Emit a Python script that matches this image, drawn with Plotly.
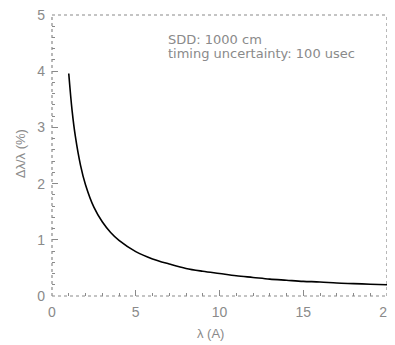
import plotly.graph_objects as go

# Values
wavelength = [1.0, 1.2, 1.4, 1.7, 2.0, 2.5, 3.0, 3.5, 4.0, 5.0, 6.0, 7.0, 8.0, 9.0, 10.0,
              11.0, 12.0, 13.0, 14.0, 15.0, 16.0, 17.0, 18.0, 19.0, 20.0]
resolution = [3.96, 3.30, 2.83, 2.33, 1.98, 1.58, 1.32, 1.13, 0.99, 0.79, 0.66, 0.57, 0.49,
              0.44, 0.40, 0.36, 0.33, 0.30, 0.28, 0.26, 0.25, 0.23, 0.22, 0.21, 0.20]
x_ticks = [0, 5, 10, 15, 20]
y_ticks = [0, 1, 2, 3, 4, 5]
notes = ["SDD: 1000 cm", "timing uncertainty: 100 usec"]
x_title = "λ (A)"
y_title = "Δλ/λ (%)"

grey = "#8a8a8a"
font = dict(family="Liberation Sans, Arial, sans-serif", size=13, color=grey)

fig = go.Figure()
fig.add_trace(go.Scatter(x=wavelength, y=resolution, mode="lines",
                         line=dict(color="black", width=1.6, shape="spline"),
                         showlegend=False))

# the page body has an 8px margin, so the figure is sized/offset to compensate
fig.update_layout(
    width=387, height=337,
    margin=dict(l=44, r=8, t=7, b=49),
    paper_bgcolor="white", plot_bgcolor="white",
    font=font,
    xaxis=dict(range=[0, 20], tickvals=x_ticks, ticks="inside", ticklen=6, tickcolor=grey,
               showgrid=False, zeroline=False, showline=False, automargin=False,
               ticklabelstandoff=6, ticklabeloverflow="allow",
               minor=dict(dtick=1, ticks="inside", ticklen=3, tickcolor=grey),
               tickfont=dict(size=14, color=grey)),
    yaxis=dict(range=[0, 5], tickvals=y_ticks, ticks="inside", ticklen=6, tickcolor=grey,
               showgrid=False, zeroline=False, showline=False, automargin=False,
               ticklabelstandoff=6, ticklabeloverflow="allow",
               minor=dict(dtick=0.2, ticks="inside", ticklen=3, tickcolor=grey),
               tickfont=dict(size=14, color=grey)),
)

# dotted frame around the plot area
for x0, y0, x1, y1 in [(0, 0, 1, 0), (0, 1, 1, 1), (0, 0, 0, 1), (1, 0, 1, 1)]:
    fig.add_shape(type="line", xref="paper", yref="paper", x0=x0, y0=y0, x1=x1, y1=y1,
                  line=dict(color=grey, width=1.2, dash="dot"))

# axis titles
fig.add_annotation(xref="paper", yref="paper", x=0.472, y=-0.132, text=x_title,
                   showarrow=False, xanchor="center", yanchor="middle",
                   font=dict(size=13, color=grey))
fig.add_annotation(xref="paper", yref="paper", x=-0.095, y=0.505, text=y_title,
                   showarrow=False, xanchor="center", yanchor="middle", textangle=-90,
                   font=dict(size=13, color=grey))

note_font = dict(family="DejaVu Sans, sans-serif", size=13, color=grey)
fig.add_annotation(xref="x", yref="y", x=6.8, y=4.56, text=notes[0], showarrow=False,
                   xanchor="left", yanchor="middle", font=note_font)
fig.add_annotation(xref="x", yref="y", x=6.8, y=4.31, text=notes[1], showarrow=False,
                   xanchor="left", yanchor="middle", font=note_font)

fig.write_html("out.html")
